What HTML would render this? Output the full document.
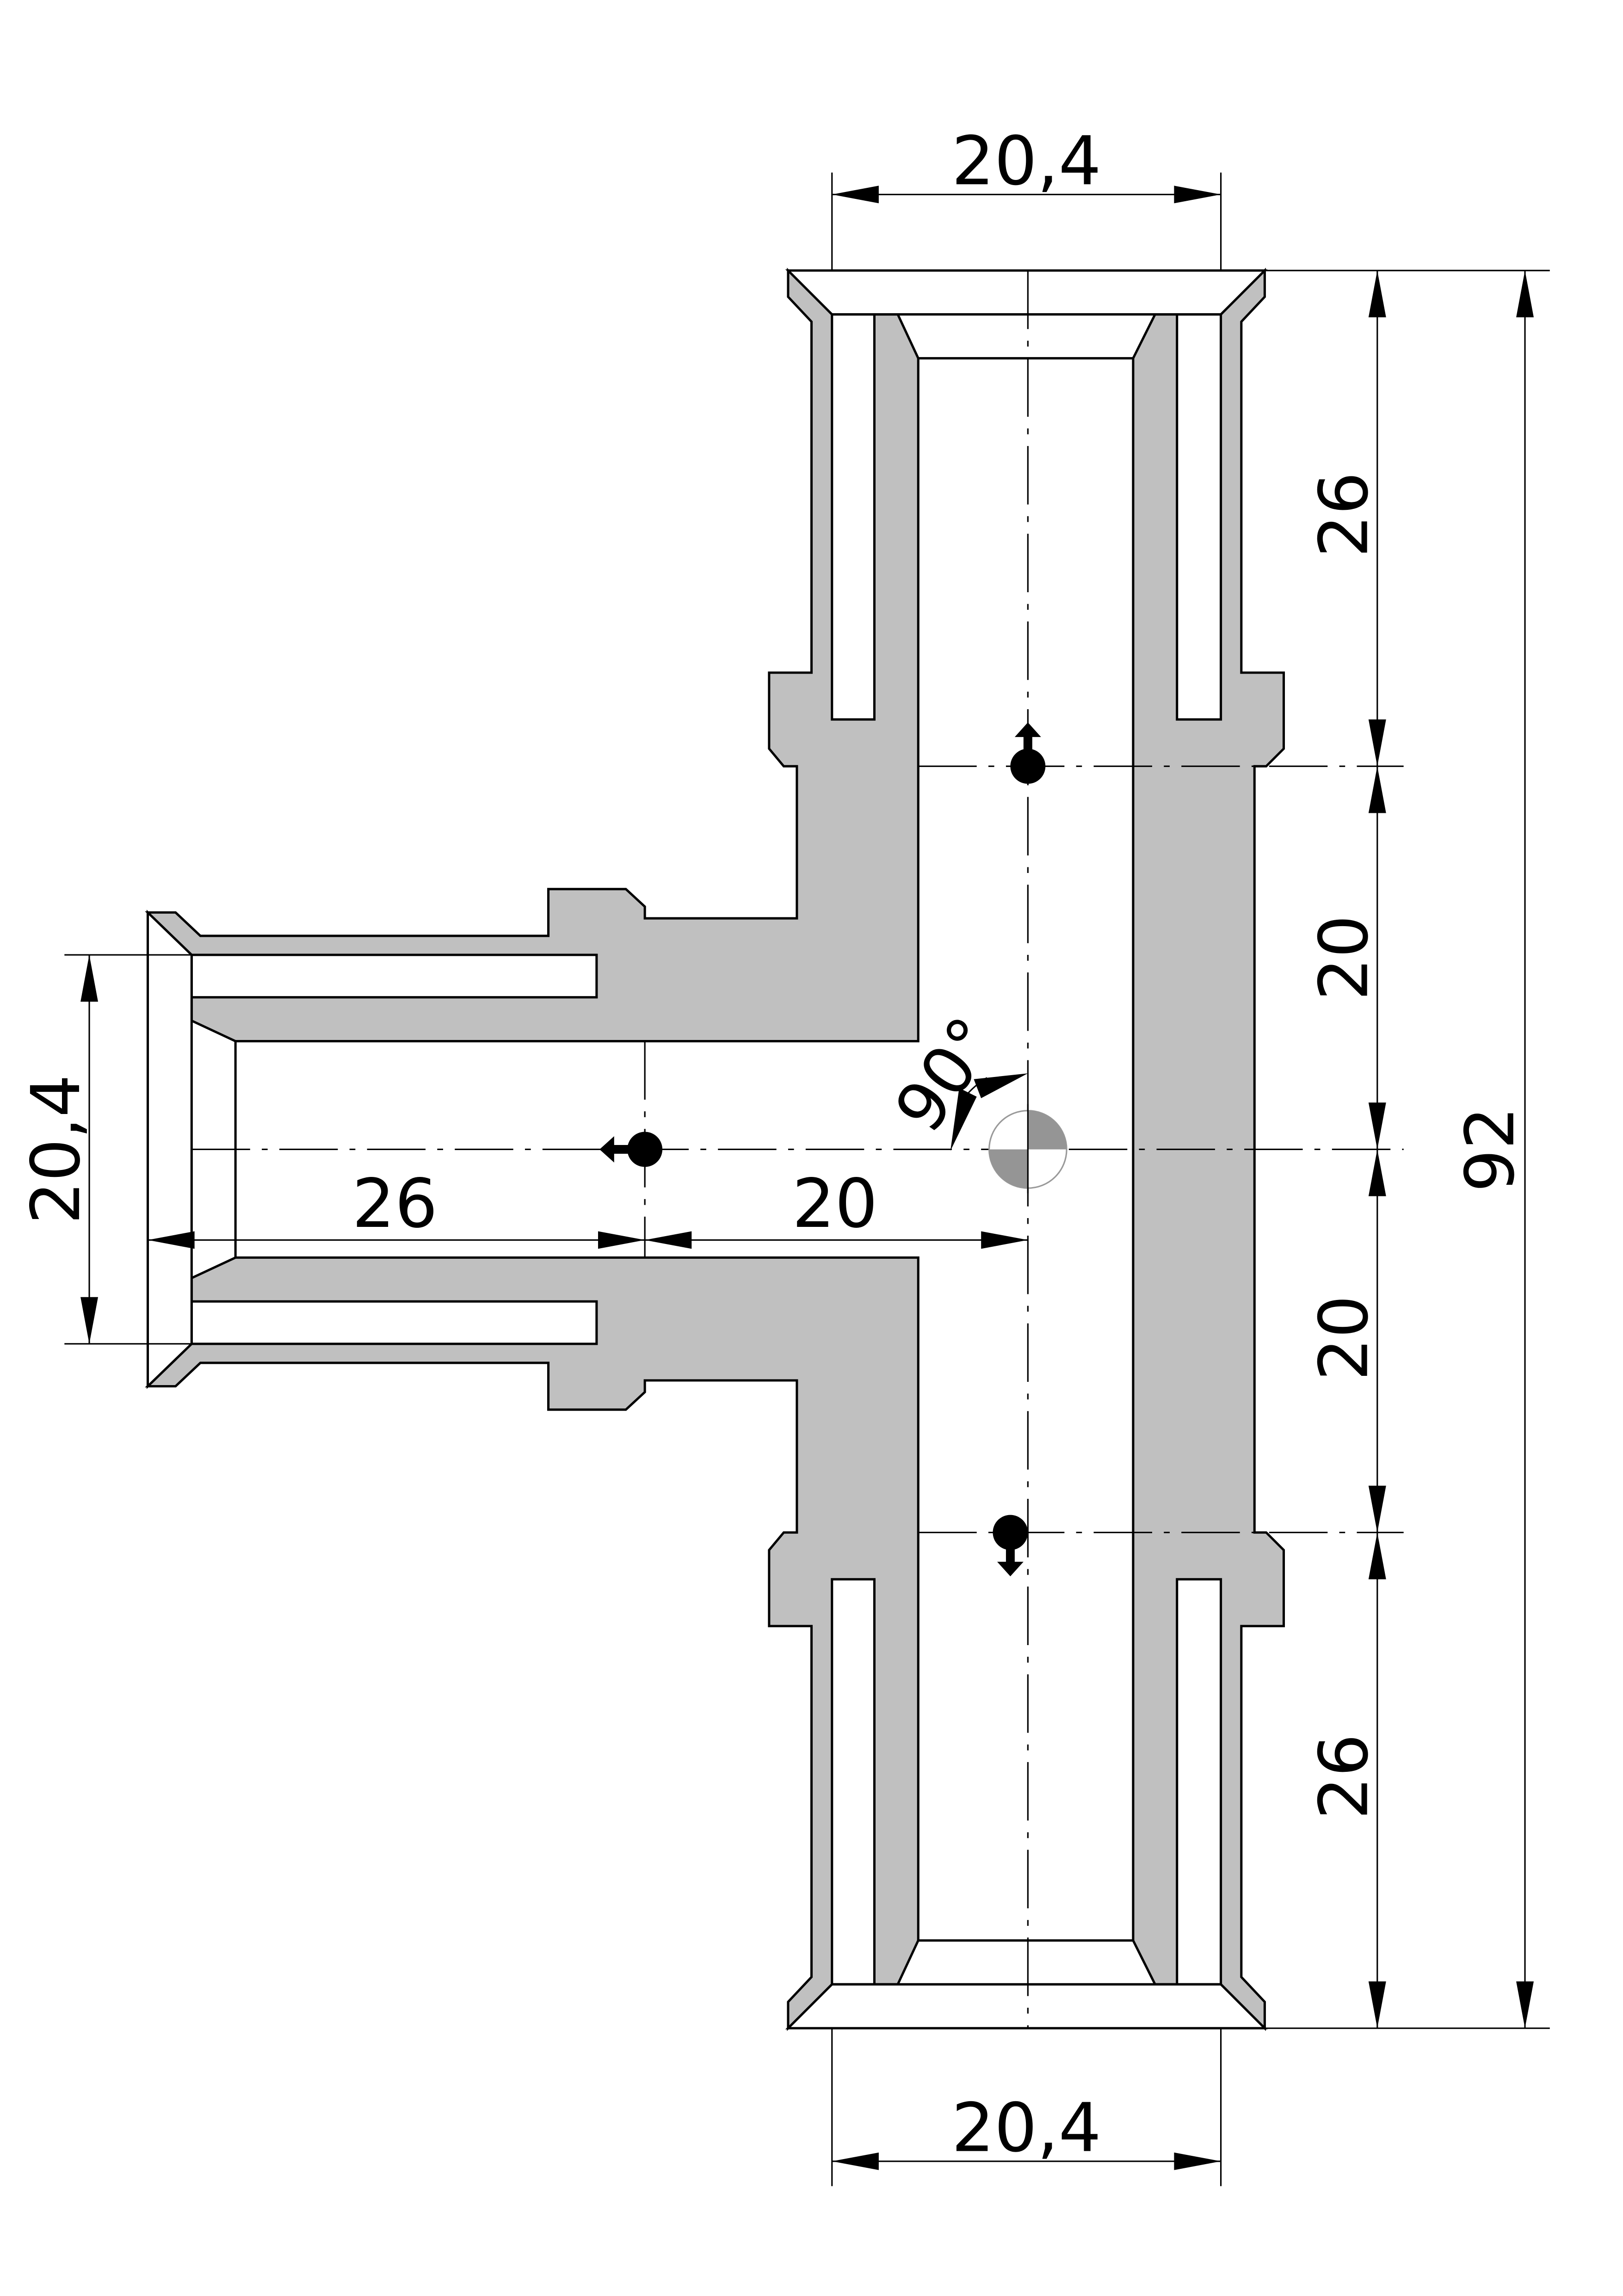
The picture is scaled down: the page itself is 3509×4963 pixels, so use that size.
<!DOCTYPE html>
<html><head><meta charset="utf-8"><style>
html,body{margin:0;padding:0;background:#fff}
svg{display:block}
text{font-family:"DejaVu Sans","Liberation Sans",sans-serif;font-size:46px;fill:#000}
</style></head><body>
<svg width="3509" height="4963" viewBox="0 0 1100 1556" xmlns="http://www.w3.org/2000/svg">
<rect width="1100" height="1556" fill="#fff"/>
<g transform="scale(0.991)">
<g stroke="#000" stroke-width="1.6" stroke-linejoin="miter">
<!-- upper-left body -->
<g id="ul">
<polygon fill="#c0c0c0" points="539,185 569,215 614,215 628,245 628,712 161,712 131,698 131,653 101,624 120,624 137,640 375,640 375,608 428,608 441,620 441,628 545,628 545,524 536,524 526,512 526,460 555,460 555,220 539,203"/>
<rect x="569" y="215" width="29" height="277" fill="#fff"/>
<rect x="131" y="653" width="277" height="29" fill="#fff"/>
<line x1="628" y1="245" x2="775" y2="245"/>
</g>
<use href="#ul" transform="translate(0,1572) scale(1,-1)"/>
<!-- right wall -->
<polygon fill="#c0c0c0" points="775,245 790,215 835,215 865,185 865,203 849,220 849,460 878,460 878,512 866,524 858,524 858,1048 866,1048 878,1060 878,1112 849,1112 849,1352 865,1369 865,1387 835,1357 790,1357 775,1327"/>
<rect x="805" y="215" width="30" height="277" fill="#fff"/>
<rect x="805" y="1080" width="30" height="277" fill="#fff"/>
<!-- flanges -->
<polygon fill="#fff" points="539,185 865,185 835,215 569,215"/>
<polygon fill="#fff" points="539,1387 865,1387 835,1357 569,1357"/>
<polygon fill="#fff" points="101,624 131,653 131,919 101,948"/>
<line x1="161" y1="712" x2="161" y2="860"/>
</g>
<!-- center lines -->
<g stroke="#000" stroke-width="1" stroke-dasharray="40,8,4,8" fill="none">
<line x1="703" y1="185" x2="703" y2="1387"/>
<line x1="131" y1="786" x2="960" y2="786"/>
<line x1="441" y1="712" x2="441" y2="860"/>
<line x1="628" y1="524" x2="960" y2="524"/>
<line x1="628" y1="1048" x2="960" y2="1048"/>
</g>
<!-- dimension lines -->
<g stroke="#000" stroke-width="1" fill="none">
<line x1="569" y1="118" x2="569" y2="185"/><line x1="835" y1="118" x2="835" y2="185"/>
<line x1="569" y1="133" x2="835" y2="133"/>
<line x1="569" y1="1387" x2="569" y2="1495"/><line x1="835" y1="1387" x2="835" y2="1495"/>
<line x1="569" y1="1478" x2="835" y2="1478"/>
<line x1="865" y1="185" x2="1060" y2="185"/><line x1="865" y1="1387" x2="1060" y2="1387"/>
<line x1="942" y1="185" x2="942" y2="1387"/>
<line x1="1043" y1="185" x2="1043" y2="1387"/>
<line x1="44" y1="653" x2="131" y2="653"/><line x1="44" y1="919" x2="131" y2="919"/>
<line x1="61" y1="653" x2="61" y2="919"/>
<line x1="101" y1="848" x2="703" y2="848"/>
<path d="M660,750 A60,60 0 0 1 675,737"/>
</g>
<g fill="#000">
<polygon points="569,133 601,127 601,139"/><polygon points="835,133 803,127 803,139"/>
<polygon points="569,1478 601,1472 601,1484"/><polygon points="835,1478 803,1472 803,1484"/>
<polygon points="942,185 936,217 948,217"/>
<polygon points="942,524 936,492 948,492"/><polygon points="942,524 936,556 948,556"/>
<polygon points="942,786 936,754 948,754"/><polygon points="942,786 936,818 948,818"/>
<polygon points="942,1048 936,1016 948,1016"/><polygon points="942,1048 936,1080 948,1080"/>
<polygon points="942,1387 936,1355 948,1355"/>
<polygon points="1043,185 1037,217 1049,217"/><polygon points="1043,1387 1037,1355 1049,1355"/>
<polygon points="61,653 55,685 67,685"/><polygon points="61,919 55,887 67,887"/>
<polygon points="101,848 133,842 133,854"/>
<polygon points="441,848 409,842 409,854"/><polygon points="441,848 473,842 473,854"/>
<polygon points="703,848 671,842 671,854"/>
<polygon points="650,787 656,744 668,750"/>
<polygon points="703,734 666,738 671,751"/>
<!-- symbols -->
<circle cx="703" cy="524" r="12"/><rect x="700" y="502" width="6" height="12"/><polygon points="703,494 694,504 712,504"/>
<circle cx="691" cy="1048" r="12"/><rect x="688" y="1058" width="6" height="12"/><polygon points="691,1078 682,1068 700,1068"/>
<circle cx="441" cy="786" r="12"/><rect x="419" y="783" width="12" height="6"/><polygon points="410,786 420,777 420,795"/>
</g>
<circle cx="703" cy="786" r="26.5" fill="#fff" stroke="#999" stroke-width="1"/>
<path d="M703,786 L703,759.5 A26.5,26.5 0 0 1 729.5,786 Z" fill="#959595"/>
<path d="M703,786 L703,812.5 A26.5,26.5 0 0 1 676.5,786 Z" fill="#959595"/>
<line x1="703" y1="755" x2="703" y2="816" stroke="#000" stroke-width="1"/>
<!-- texts -->
<text x="702" y="126" text-anchor="middle">20,4</text>
<text x="702" y="1471" text-anchor="middle">20,4</text>
<text x="270" y="839" text-anchor="middle">26</text>
<text x="571" y="839" text-anchor="middle">20</text>
<text transform="translate(935,352) rotate(-90)" text-anchor="middle">26</text>
<text transform="translate(935,655) rotate(-90)" text-anchor="middle">20</text>
<text transform="translate(935,915) rotate(-90)" text-anchor="middle">20</text>
<text transform="translate(935,1215) rotate(-90)" text-anchor="middle">26</text>
<text transform="translate(1035,786) rotate(-90)" text-anchor="middle">92</text>
<text transform="translate(54,786) rotate(-90)" text-anchor="middle">20,4</text>
<text transform="translate(660,744) rotate(-55)" text-anchor="middle">90°</text>
</g>
</svg>
</body></html>
